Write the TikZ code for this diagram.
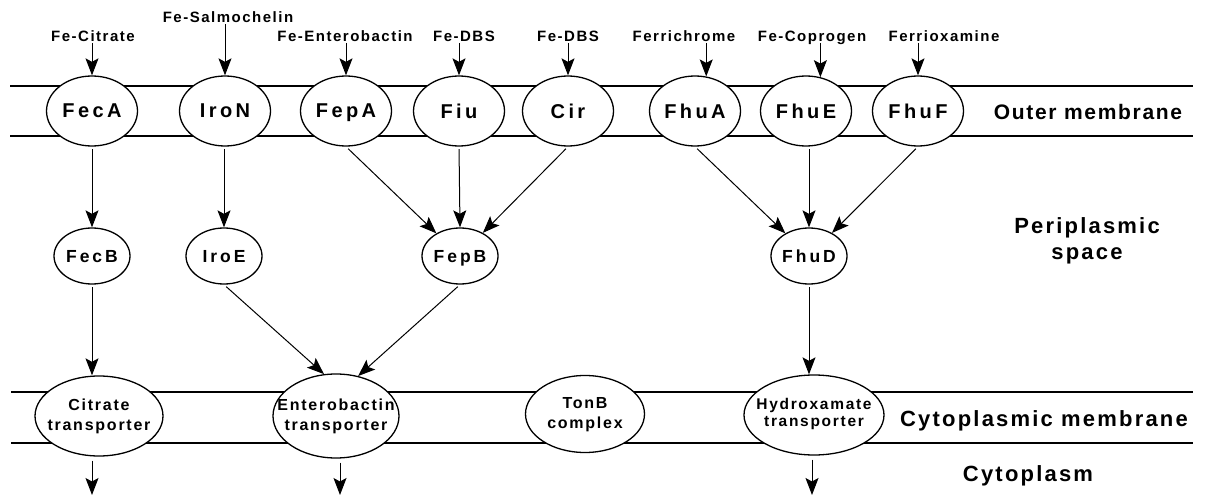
\documentclass[tikz,border=0pt]{standalone}
\usepackage{fontspec}
\setmainfont{Liberation Sans}
\newfontfamily\fTop[LetterSpace=10]{Liberation Sans}
\newfontfamily\fEl[LetterSpace=17]{Liberation Sans}
\newfontfamily\fTr[LetterSpace=11]{Liberation Sans}
\newfontfamily\fBig[LetterSpace=10]{Liberation Sans}
\newfontfamily\fOut[LetterSpace=8]{Liberation Sans}
\usetikzlibrary{arrows.meta,shapes.geometric}
\newcommand{\twoline}[2]{\makebox[0pt]{\begin{tabular}{@{}c@{}}#1\\#2\end{tabular}}}
\begin{document}
\begin{tikzpicture}[x=1pt,y=-1pt,
  memline/.style={line width=1.4pt},
  omprot/.style={ellipse,draw,line width=1.3pt,fill=white,minimum width=91pt,minimum height=70pt,inner sep=0pt,text depth=0pt,font=\fEl\bfseries\fontsize{20}{23}\selectfont},
  pmprot/.style={ellipse,draw,line width=1.3pt,fill=white,minimum width=76pt,minimum height=56pt,inner sep=0pt,text depth=0pt,font=\fEl\bfseries\fontsize{17.5}{20}\selectfont},
  cmprot/.style={ellipse,draw,line width=1.3pt,fill=white,inner sep=0pt,font=\fTr\bfseries\fontsize{16}{20}\selectfont},
  toplab/.style={font=\fTop\bfseries\fontsize{15}{18}\selectfont,anchor=base,inner sep=0pt},
  biglab/.style={font=\fBig\bfseries\fontsize{22}{26}\selectfont,align=center,inner sep=0pt},
  arr/.style={-{Stealth[length=17pt,width=13pt,inset=3.5pt]},line width=1pt},
]
\fill[white] (0,0) rectangle (1205,497);
\useasboundingbox (0,0) rectangle (1205,497);

% membranes
\draw[memline] (10,86) -- (1193,86);
\draw[memline] (10,136) -- (1193,136);
\draw[memline] (11,392) -- (1193,392);
\draw[memline] (11,443) -- (1193,443);

% outer membrane proteins
\node[omprot] (FecA) at (92,111) {FecA};
\node[omprot] (IroN) at (225,111) {IroN};
\node[omprot] (FepA) at (346,111) {FepA};
\node[omprot] (Fiu)  at (459,111) {Fiu};
\node[omprot] (Cir)  at (568,111) {Cir};
\node[omprot] (FhuA) at (695,111) {FhuA};
\node[omprot] (FhuE) at (806,111) {FhuE};
\node[omprot] (FhuF) at (918,111) {FhuF};

% periplasmic proteins
\node[pmprot] (FecB) at (92,256) {FecB};
\node[pmprot] (IroE) at (224,256) {IroE};
\node[pmprot] (FepB) at (460,256) {FepB};
\node[pmprot] (FhuD) at (809,256) {FhuD};

% cytoplasmic membrane
\node[cmprot,minimum width=128pt,minimum height=80pt] (Cit) at (99,416) {\twoline{Citrate}{transporter}};
\node[cmprot,minimum width=126pt,minimum height=84pt] (Ent) at (336,416) {\twoline{Enterobactin}{transporter}};
\node[cmprot,minimum width=119pt,minimum height=77pt] (TonB) at (585,414) {\twoline{TonB}{complex}};
\node[cmprot,minimum width=140pt,minimum height=80pt,font=\fTr\bfseries\fontsize{15.5}{17}\selectfont] (Hyd) at (814,415) {\twoline{Hydroxamate}{transporter}};

% top labels
\node[toplab] (lCit) at (93,41.5) {Fe-Citrate};
\node[toplab] (lSal) at (228,22.7) {Fe-Salmochelin};
\node[toplab] (lEnt) at (345,41.5) {Fe-Enterobactin};
\node[toplab] (lDBa) at (464,41.5) {Fe-DBS};
\node[toplab] (lDBb) at (568,41.5) {Fe-DBS};
\node[toplab] (lFch) at (684,41.5) {Ferrichrome};
\node[toplab] (lCop) at (812,41.5) {Fe-Coprogen};
\node[toplab] (lFox) at (944,41.5) {Ferrioxamine};

% region labels
\node[biglab,anchor=base,font=\fOut\bfseries\fontsize{21}{26}\selectfont] (tOM) at (1088,119.3) {Outer membrane};
\node[biglab] (tPS) at (1087,241) {Periplasmic\\space};
\node[biglab,anchor=base] (tCM) at (1044,426.7) {Cytoplasmic membrane};
\node[biglab,anchor=base] (tCy) at (1028,481) {Cytoplasm};

% arrows into outer membrane
\draw[arr,shorten <=1.5pt] (lCit.base -| FecA.north) -- (FecA.north);
\draw[arr,shorten <=1.5pt] (lSal.base -| IroN.north) -- (IroN.north);
\draw[arr,shorten <=1.5pt] (lEnt.base -| FepA.north) -- (FepA.north);
\draw[arr,shorten <=1.5pt] (lDBa.base -| Fiu.north) -- (Fiu.north);
\draw[arr,shorten <=1.5pt] (lDBb.base -| Cir.north) -- (Cir.north);
\draw[arr,shorten <=1.5pt] (lFch.base -| FhuA.72) -- (FhuA.72);
\draw[arr,shorten <=1.5pt] (lCop.base -| FhuE.67) -- (FhuE.67);
\draw[arr,shorten <=1.5pt] (lFox.base -| FhuF.north) -- (FhuF.north);

% outer membrane -> periplasm
\draw[arr,shorten <=2.5pt] (FecA.south) -- (FecB.north);
\draw[arr,shorten <=2.5pt] (IroN.south -| IroE.north) -- (IroE.north);
\draw[arr,shorten <=3pt] (FepA.south) -- (FepB);
\draw[arr,shorten <=2.5pt] (Fiu.south) -- (FepB.north);
\draw[arr,shorten <=3pt] (Cir.south) -- (FepB);
\draw[arr,shorten <=3pt] (FhuA.south) -- (FhuD);
\draw[arr,shorten <=2.5pt] (FhuE.south -| FhuD.north) -- (FhuD.north);
\draw[arr,shorten <=3pt] (FhuF.south) -- (FhuD);

% periplasm -> cytoplasmic membrane
\draw[arr,shorten <=2.5pt] (FecB.south) -- (FecB.south |- Cit.north);
\draw[arr,shorten <=3pt] (IroE.south) -- (Ent.106);
\draw[arr,shorten <=3pt] (FepB.south) -- (Ent.61);
\draw[arr,shorten <=2.5pt] (FhuD.south) -- (FhuD.south |- Hyd.north);

% into cytoplasm
\coordinate (o1) at (92,495);
\coordinate (o2) at (340,495);
\coordinate (o3) at (812,495);
\draw[arr,shorten <=4pt] (Cit.south -| o1) -- (o1);
\draw[arr,shorten <=4pt] (Ent.south -| o2) -- (o2);
\draw[arr,shorten <=4pt] (Hyd.south -| o3) -- (o3);
\end{tikzpicture}
\end{document}
